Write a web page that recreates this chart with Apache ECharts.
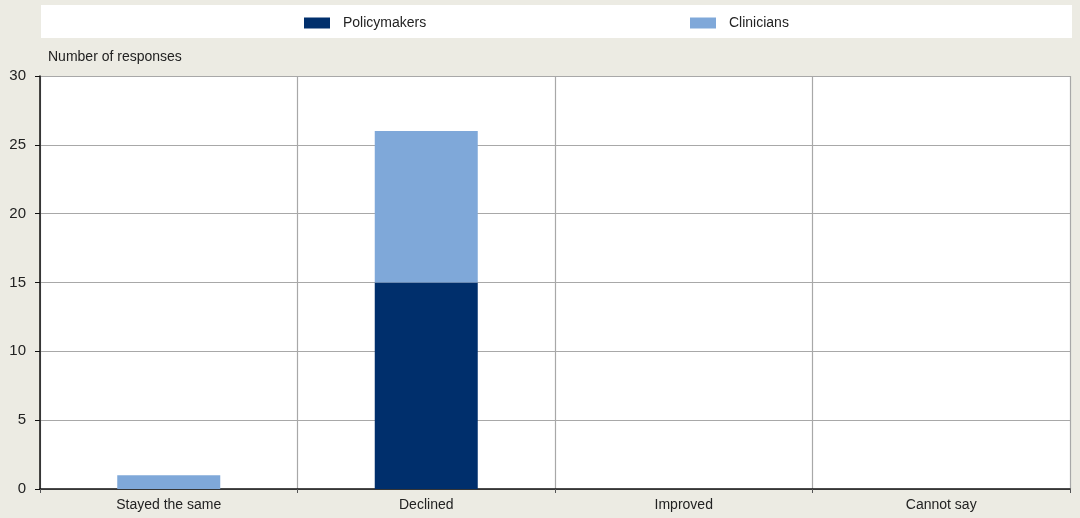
<!DOCTYPE html>
<html><head><meta charset="utf-8">
<script src="https://cdn.jsdelivr.net/npm/echarts@6/dist/echarts.min.js"></script>
<style>html,body{margin:0;padding:0;background:#ecebe3;}#c{width:1080px;height:518px;}</style>
</head><body><div id="c"></div>
<script>
const categories = ["Stayed the same", "Declined", "Improved", "Cannot say"];
const policymakers = [0, 15, 0, 0];
const clinicians = [1, 11, 0, 0];
const yTicks = [0, 5, 10, 15, 20, 25, 30];

const chart = echarts.init(document.getElementById('c'));
const font = 'Liberation Sans, Arial, sans-serif';
chart.setOption({
  backgroundColor: '#ecebe3',
  animation: false,
  textStyle: { fontFamily: font },
  graphic: [{
    type: 'rect', left: 41, top: 5, z: -1,
    shape: { width: 1031, height: 33 },
    style: { fill: '#ffffff' }
  }, {
    type: 'text', left: 48, top: 50,
    style: { text: 'Number of responses', fill: '#222', font: '14px ' + font }
  }],
  legend: [{
    data: ['Policymakers'], left: 304, top: 16, padding: 0, icon: 'rect', itemWidth: 26, itemHeight: 11, itemGap: 10,
    textStyle: { fontSize: 14, color: '#222', fontFamily: font, padding: [0, 0, 0, 8] }
  }, {
    data: ['Clinicians'], left: 690, top: 16, padding: 0, icon: 'rect', itemWidth: 26, itemHeight: 11,
    textStyle: { fontSize: 14, color: '#222', fontFamily: font, padding: [0, 0, 0, 8] }
  }],
  grid: { left: 40, right: 10, top: 76, bottom: 29, show: true, backgroundColor: '#ffffff', borderWidth: 0 },
  xAxis: {
    type: 'category', data: categories,
    axisLine: { lineStyle: { color: '#111', width: 1.5 } },
    axisTick: { show: true, length: 4, lineStyle: { color: '#555' } },
    splitLine: { show: true, lineStyle: { color: '#a8a8a8', width: 1.2 } },
    axisLabel: { fontSize: 14, color: '#222', margin: 9, fontFamily: font }
  },
  yAxis: {
    type: 'value', min: 0, max: 30, interval: 5,
    axisLine: { show: true, lineStyle: { color: '#111', width: 1.5 } },
    axisTick: { show: true, length: 5, lineStyle: { color: '#111' } },
    splitLine: { show: true, lineStyle: { color: '#a8a8a8', width: 1.2 } },
    axisLabel: { fontSize: 15, color: '#222', margin: 14, fontFamily: font,
      formatter: v => yTicks.includes(v) ? String(v) : '' }
  },
  series: [{
    name: 'Policymakers', type: 'bar', stack: 'a', data: policymakers,
    barWidth: '40%', itemStyle: { color: '#002f6c' }
  }, {
    name: 'Clinicians', type: 'bar', stack: 'a', data: clinicians,
    barWidth: '40%', itemStyle: { color: '#7fa8d9' }
  }]
});
</script></body></html>
